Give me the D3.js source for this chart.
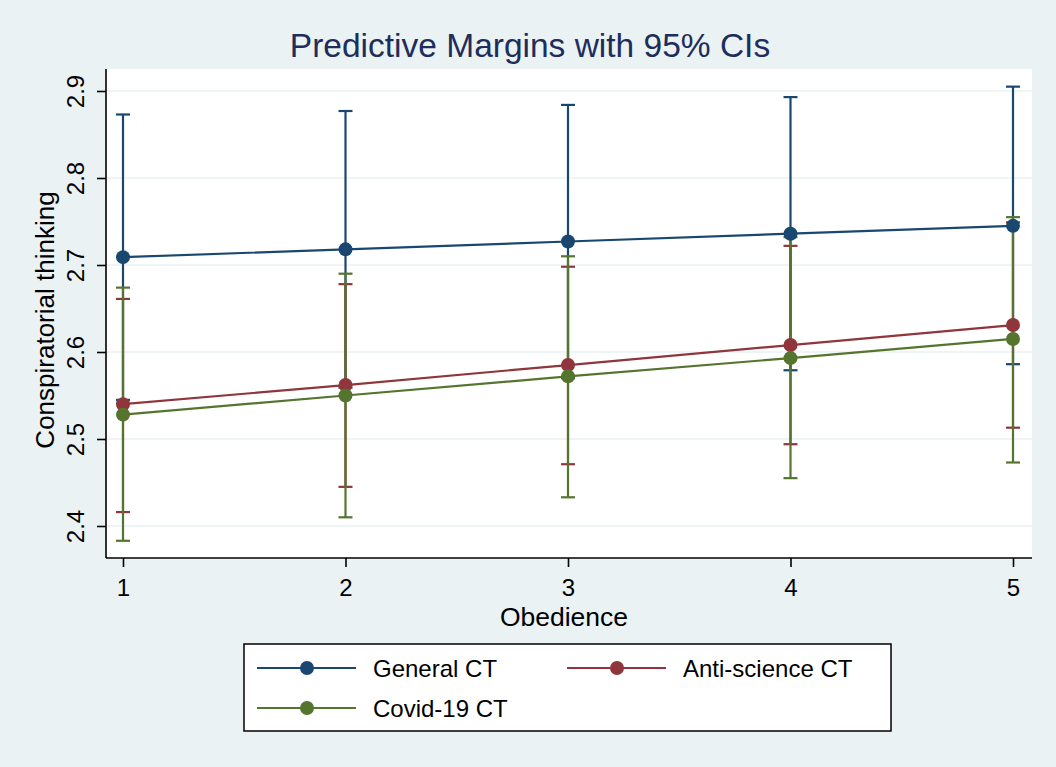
<!DOCTYPE html>
<html>
<head>
<meta charset="utf-8">
<script src="https://cdn.jsdelivr.net/npm/d3@7"></script>
<style>
  body { margin: 0; background: #eaf2f3; }
  svg { display: block; font-family: "Liberation Sans", Arial, sans-serif; }
</style>
</head>
<body>
<svg id="chart" width="1056" height="767"></svg>
<script>
// obedience levels on the x axis
const obedience = [1, 2, 3, 4, 5];
const yTicks = [2.4, 2.5, 2.6, 2.7, 2.8, 2.9];

// margins and 95% CI bounds
const generalCT = [2.709, 2.718, 2.727, 2.736, 2.745];
const generalLo = [2.545, 2.559, 2.570, 2.579, 2.586];
const generalHi = [2.873, 2.877, 2.884, 2.893, 2.905];

const antiSciCT = [2.540, 2.562, 2.585, 2.608, 2.631];
const antiSciLo = [2.416, 2.445, 2.471, 2.494, 2.513];
const antiSciHi = [2.661, 2.678, 2.698, 2.722, 2.749];

const covidCT = [2.528, 2.550, 2.572, 2.593, 2.615];
const covidLo = [2.383, 2.410, 2.433, 2.455, 2.473];
const covidHi = [2.674, 2.690, 2.710, 2.732, 2.755];

const series = [
    {name: 'General CT', color: '#1a476f', est: generalCT, lo: generalLo, hi: generalHi},
    {name: 'Anti-science CT', color: '#90353b', est: antiSciCT, lo: antiSciLo, hi: antiSciHi},
    {name: 'Covid-19 CT', color: '#55752f', est: covidCT, lo: covidLo, hi: covidHi}
];

const svg = d3.select('#chart');
const plot = {left: 106, right: 1032, top: 69, bottom: 558};

// stata-ish background + white plot region
svg.append('rect').attr('width', 1056).attr('height', 767).attr('fill', '#eaf2f3');
svg.append('rect')
    .attr('x', plot.left).attr('y', plot.top)
    .attr('width', plot.right - plot.left).attr('height', plot.bottom - plot.top)
    .attr('fill', '#fff');

const x = d3.scaleLinear().domain([1, 5]).range([123, 1013]);
// 2.7 sits at 265px, 87px per 0.1
const y = d3.scaleLinear().domain([2.4, 2.9]).range([526, 91]);

// gridlines
svg.append('g')
    .selectAll('line')
    .data(yTicks)
    .enter()
    .append('line')
    .attr('x1', plot.left).attr('x2', plot.right)
    .attr('y1', d=>y(d)).attr('y2', d=>y(d))
    .attr('stroke', '#eaf2f3')
    .attr('stroke-width', 1.6);

// axes
const yAxis = svg.append('g')
    .attr('transform', `translate(${plot.left},0)`)
    .call(d3.axisLeft(y).tickValues(yTicks).tickSize(9).tickFormat(d3.format('.1f')));
yAxis.select('.domain').attr('d', `M0,${plot.top}V${plot.bottom}`);
yAxis.selectAll('text')
    .attr('transform', 'translate(-22.5,0) rotate(-90)')
    .attr('x', 0).attr('y', 0).attr('dy', 0)
    .attr('text-anchor', 'middle')
    .style('font-size', '24px');

const xAxis = svg.append('g')
    .attr('transform', `translate(0,${plot.bottom})`)
    .call(d3.axisBottom(x).tickValues(obedience).tickSize(9).tickFormat(d3.format('d')));
xAxis.select('.domain').attr('d', `M${plot.left},0H${plot.right}`);
xAxis.selectAll('text')
    .attr('y', 0).attr('dy', 0)
    .attr('transform', 'translate(0,38)')
    .style('font-size', '24px');

[yAxis, xAxis].forEach(a=>{
    a.selectAll('.domain').attr('stroke', '#000').attr('stroke-width', 1.6);
    a.selectAll('.tick line').attr('stroke', '#000').attr('stroke-width', 1.6);
    a.selectAll('text').attr('fill', '#000').style('font-family', '"Liberation Sans", Arial, sans-serif');
});

// titles
svg.append('text')
    .attr('x', 530).attr('y', 57)
    .attr('text-anchor', 'middle')
    .attr('fill', '#1e2d5c')
    .style('font-size', '33.5px')
    .text('Predictive Margins with 95% CIs');

svg.append('text')
    .attr('transform', 'translate(54,320) rotate(-90)')
    .attr('text-anchor', 'middle')
    .style('font-size', '26px')
    .text('Conspiratorial thinking');

svg.append('text')
    .attr('x', 564).attr('y', 626)
    .attr('text-anchor', 'middle')
    .style('font-size', '26.5px')
    .text('Obedience');

// CI caps first (all series), then connected lines on top
const capW = 7;
series.forEach(s=>{
    const g = svg.append('g').attr('stroke', s.color).attr('stroke-width', 2.2);
    obedience.forEach((o,i)=>{
        g.append('line').attr('x1', x(o)).attr('x2', x(o)).attr('y1', y(s.lo[i])).attr('y2', y(s.hi[i]));
        g.append('line').attr('x1', x(o)-capW).attr('x2', x(o)+capW).attr('y1', y(s.lo[i])).attr('y2', y(s.lo[i]));
        g.append('line').attr('x1', x(o)-capW).attr('x2', x(o)+capW).attr('y1', y(s.hi[i])).attr('y2', y(s.hi[i]));
    });
});

const line = d3.line().x((d,i)=>x(obedience[i])).y(d=>y(d));
series.forEach(s=>{
    svg.append('path')
        .datum(s.est)
        .attr('d', line)
        .attr('fill', 'none')
        .attr('stroke', s.color)
        .attr('stroke-width', 2.2);
    svg.append('g')
        .selectAll('circle')
        .data(s.est)
        .enter()
        .append('circle')
        .attr('cx', (d,i)=>x(obedience[i]))
        .attr('cy', d=>y(d))
        .attr('r', 7)
        .attr('fill', s.color);
});

// legend
const legend = svg.append('g');
legend.append('rect')
    .attr('x', 244).attr('y', 644).attr('width', 647).attr('height', 87)
    .attr('fill', '#fff').attr('stroke', '#000').attr('stroke-width', 1.5);

const legendPos = [[257, 668], [567, 668], [257, 708]];
series.forEach((s,i)=>{
    const [lx, ly] = legendPos[i];
    legend.append('line')
        .attr('x1', lx).attr('x2', lx + 99).attr('y1', ly).attr('y2', ly)
        .attr('stroke', s.color).attr('stroke-width', 2.2);
    legend.append('circle')
        .attr('cx', lx + 50).attr('cy', ly).attr('r', 7).attr('fill', s.color);
    legend.append('text')
        .attr('x', lx + 116).attr('y', ly + 9)
        .style('font-size', '24px')
        .text(s.name);
});
</script>
</body>
</html>
